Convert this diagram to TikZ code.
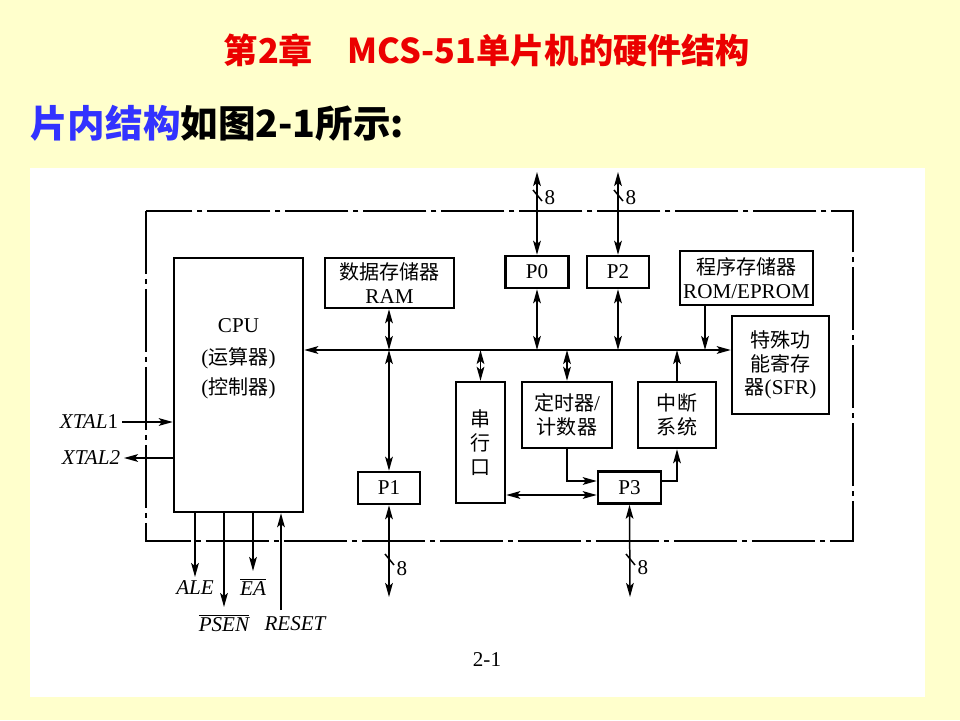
\documentclass[tikz,border=0pt]{standalone}
\usepackage{fontspec}
\setmainfont{Liberation Serif}
\newfontfamily\cjk[Scale=0.95]{Noto Sans CJK SC}
\usetikzlibrary{positioning, arrows.meta}
\definecolor{slidebg}{RGB}{255,255,204}
\definecolor{titlered}{RGB}{235,0,0}
\definecolor{subblue}{RGB}{51,51,255}

\begin{document}
\begin{tikzpicture}[
x=0.02cm, y=-0.02cm,
font=\fontsize{12}{13.5}\selectfont,
>={Stealth[length=8pt, width=4.4pt, inset=1.8pt]},
blk/.style={rectangle, draw, line width=1.4pt, inner sep=1pt, align=center},
port/.style={blk, minimum width=1.26cm, minimum height=0.64cm},
link/.style={line width=0.85pt},
chip/.style={line width=0.85pt, dash pattern=on 1.26cm off 0.1cm on 0.1cm off 0.1cm},
pin/.style={font=\fontsize{12}{13.5}\selectfont\itshape, inner sep=1pt}
]

% --- Fond ---
\fill[slidebg] (0,0) rectangle (960,720);
\useasboundingbox (0,0) rectangle (960,720);
\fill[white] (30,168) rectangle (925,697);

% --- Titres ---
\node[font=\cjk\bfseries\fontsize{20.5}{22}\selectfont, text=titlered] (title) at (487,50) {第2章\quad MCS-51单片机的硬件结构};
\node[anchor=west, font=\cjk\bfseries\fontsize{22.5}{24}\selectfont, inner sep=0pt] (sub) at (30,123) {\textcolor{subblue}{片内结构}如图2-1所示:};

% --- Limite de la puce ---
\draw[chip] (146,211) rectangle (853,541);

% --- Blocs ---
\node[blk, minimum width=2.58cm, minimum height=5.08cm] (cpu) at (238.5,385) {};
\node[align=center, font=\fontsize{12}{17}\selectfont] (cputxt) at (238.5,359) {CPU\\[1pt]({\cjk 运算器})\\({\cjk 控制器})};
\node[blk, minimum width=2.58cm, minimum height=1cm] (ram) at (389.5,283) {{\cjk 数据存储器}\\RAM};
\node[port] (p0) at (537,272) {P0};
\node[port, minimum width=1.24cm] (p2) at (618,272) {P2};
\node[blk, minimum width=2.66cm, minimum height=1.08cm] (rom) at (746.5,278) {{\cjk 程序存储器}\\ROM/EPROM};
\node[blk, minimum width=1.94cm, minimum height=1.96cm] (sfr) at (780.5,365) {{\cjk 特殊功}\\{\cjk 能寄存}\\{\cjk 器}(SFR)};
\node[blk, minimum width=0.98cm, minimum height=2.42cm] (uart) at (480.5,442.5) {{\cjk 串}\\{\cjk 行}\\{\cjk 口}};
\node[blk, minimum width=1.8cm, minimum height=1.32cm] (timer) at (567,415) {{\cjk 定时器}/\\{\cjk 计数器}};
\node[blk, minimum width=1.56cm, minimum height=1.32cm] (intr) at (677,415) {{\cjk 中断}\\{\cjk 系统}};
\node[port, minimum width=1.24cm] (p1) at (389,488) {P1};
\node[port] (p3) at (629.5,487.5) {P3};

% --- Bus interne ---
\coordinate (bus) at (0,350);
\draw[link, <->] (cpu.east |- bus) -- (sfr.west |- bus);
\draw[link, <->] (p1.north |- ram.south) -- (p1.north |- bus);
\draw[link, <->] (p1.north |- bus) -- (p1.north);
\draw[link, <->] (p0.south) -- (p0.south |- bus);
\draw[link, <->] (p2.south) -- (p2.south |- bus);
\coordinate (romout) at ([xshift=-0.83cm]rom.south);
\draw[link, ->] (romout) -- (romout |- bus);
\draw[link, <->] (uart.north |- bus) -- (uart.north);
\draw[link, <->] (timer.north |- bus) -- (timer.north);
\draw[link, ->] (intr.north) -- (intr.north |- bus);

% --- Liaisons P3 ---
\coordinate (p3tim) at ([yshift=0.13cm]p3.west);
\coordinate (p3ser) at ([yshift=-0.15cm]p3.west);
\coordinate (p3int) at ([yshift=0.13cm]p3.east);
\draw[link, ->] (timer.south) |- (p3tim);
\draw[link, <->] (uart.east |- p3ser) -- (p3ser);
\draw[link, ->] (p3int) -| (intr.south);

% --- Ports externes ---
\coordinate (p0end) at (537,172);
\coordinate (p2end) at (618,172);
\coordinate (p1end) at (389,597);
\coordinate (p3end) at (630,597);
\draw[link, <->] (p0end) -- (p0.north);
\draw[link, <->] (p2end) -- (p2.north);
\draw[link, <->] (p1.south) -- (p1end);
\draw[link, <->] (p3.south) -- (p3end);
\foreach \x/\y/\ly in {537/196/198, 618/196/198, 389/560/569, 630/560/568} {
  \draw[link] (\x-4,\y-6) -- (\x+5,\y+5);
  \node (w\x) at (\x+13,\ly) {8};
}

% --- Horloge et commandes ---
\coordinate (x1end) at (122,422);
\coordinate (x2end) at (124,458);
\draw[link, ->] (x1end) -- (cpu.west |- x1end);
\draw[link, ->] (cpu.west |- x2end) -- (x2end);
\node[left, inner sep=2pt] (xtal1) at (x1end) {\textit{XTAL}1};
\node[left, inner sep=2pt] (xtal2) at (x2end) {\textit{XTAL2}};

\coordinate (ale) at (195,577);
\coordinate (psen) at (224,607);
\coordinate (ea) at (253,571);
\coordinate (rst) at (281,610);
\draw[link, ->] (cpu.south -| ale) -- (ale);
\draw[link, ->] (cpu.south -| psen) -- (psen);
\draw[link, ->] (cpu.south -| ea) -- (ea);
\draw[link, ->] (rst) -- (cpu.south -| rst);
\node[pin, below=1pt of ale] (alelbl) {ALE};
\node[pin, below=3pt of psen] (psenlbl) {$\overline{\mbox{\itshape PSEN}}$};
\node[pin, below=3pt of ea] (ealbl) {$\overline{\mbox{\itshape EA}}$};
\node[pin] (rstlbl) at (295,624) {RESET};

% --- Legende ---
\node (cap) at (487,660) {2-1};

\end{tikzpicture}
\end{document}
